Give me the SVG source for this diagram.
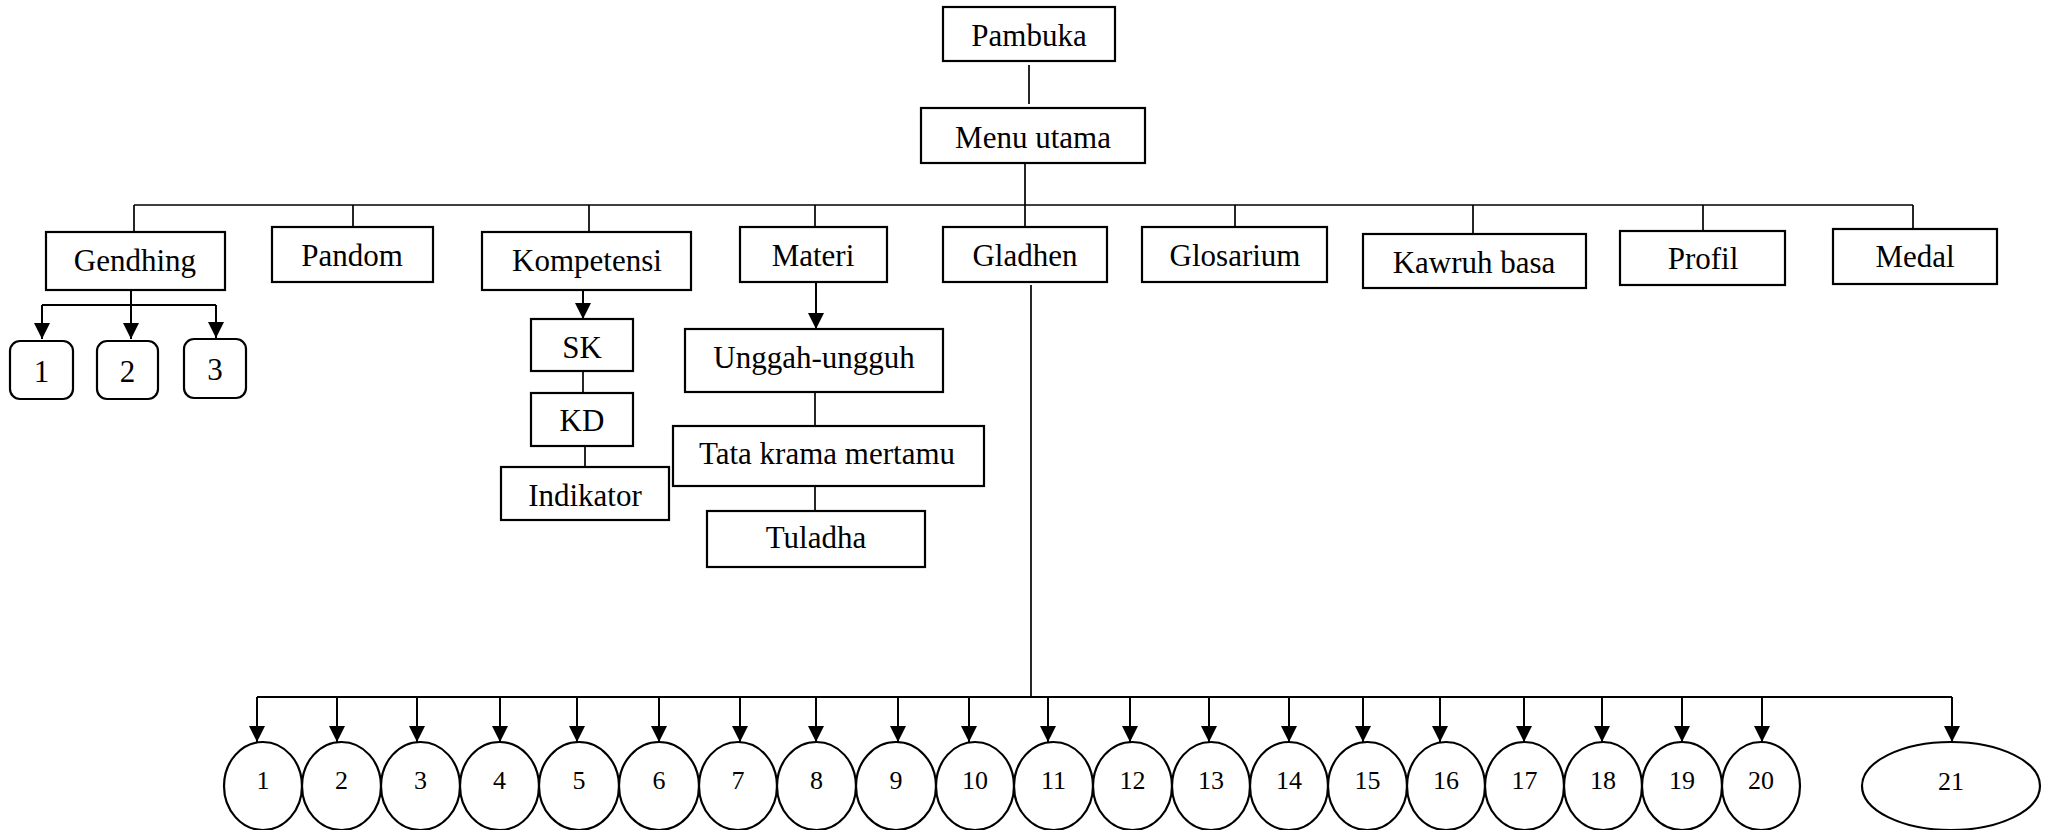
<svg xmlns="http://www.w3.org/2000/svg" width="2053" height="830" viewBox="0 0 2053 830">
<style>
.b{fill:#fff;stroke:#000;stroke-width:2.2}
.c{fill:none;stroke:#000;stroke-width:1.7}
.a{fill:none;stroke:#000;stroke-width:2}
.t{font-size:31px;fill:#000;text-anchor:middle}
.d{font-size:26px;fill:#000;text-anchor:middle}
</style>
<defs>
<marker id="ah" viewBox="0 0 16 16" markerWidth="16" markerHeight="16" refX="16" refY="8" orient="auto" markerUnits="userSpaceOnUse">
<path d="M0,0 L16,8 L0,16 z" fill="#000"/>
</marker>
</defs>
<rect width="2053" height="830" fill="#fff"/>
<g id="connectors">
<line class="c" x1="1029" y1="65" x2="1029" y2="104"/>
<line class="c" x1="1025" y1="163" x2="1025" y2="205"/>
<line class="c" x1="134" y1="205" x2="1913" y2="205"/>
<line class="c" x1="134" y1="205" x2="134" y2="232"/>
<line class="c" x1="353" y1="205" x2="353" y2="227"/>
<line class="c" x1="589" y1="205" x2="589" y2="232"/>
<line class="c" x1="815" y1="205" x2="815" y2="227"/>
<line class="c" x1="1025" y1="205" x2="1025" y2="227"/>
<line class="c" x1="1235" y1="205" x2="1235" y2="227"/>
<line class="c" x1="1473" y1="205" x2="1473" y2="234"/>
<line class="c" x1="1703" y1="205" x2="1703" y2="231"/>
<line class="c" x1="1913" y1="205" x2="1913" y2="229"/>
<line class="a" x1="131" y1="290" x2="131" y2="305"/>
<line class="a" x1="42" y1="305" x2="216" y2="305"/>
<line class="a" x1="42" y1="305" x2="42" y2="339" marker-end="url(#ah)"/>
<line class="a" x1="131" y1="305" x2="131" y2="339" marker-end="url(#ah)"/>
<line class="a" x1="216" y1="305" x2="216" y2="338" marker-end="url(#ah)"/>
<line class="a" x1="583" y1="286" x2="583" y2="319" marker-end="url(#ah)"/>
<line class="c" x1="583" y1="371" x2="583" y2="393"/>
<line class="c" x1="585" y1="446" x2="585" y2="467"/>
<line class="a" x1="816" y1="282" x2="816" y2="329" marker-end="url(#ah)"/>
<line class="c" x1="815" y1="392" x2="815" y2="426"/>
<line class="c" x1="815" y1="483" x2="815" y2="511"/>
<line class="c" x1="1031" y1="285" x2="1031" y2="697"/>
<line class="a" x1="257" y1="697" x2="1952" y2="697"/>
<g marker-end="url(#ah)">
<line class="a" x1="257" y1="697" x2="257" y2="742"/>
<line class="a" x1="337" y1="697" x2="337" y2="742"/>
<line class="a" x1="417" y1="697" x2="417" y2="742"/>
<line class="a" x1="500" y1="697" x2="500" y2="742"/>
<line class="a" x1="577" y1="697" x2="577" y2="742"/>
<line class="a" x1="659" y1="697" x2="659" y2="742"/>
<line class="a" x1="740" y1="697" x2="740" y2="742"/>
<line class="a" x1="816" y1="697" x2="816" y2="742"/>
<line class="a" x1="898" y1="697" x2="898" y2="742"/>
<line class="a" x1="969" y1="697" x2="969" y2="742"/>
<line class="a" x1="1048" y1="697" x2="1048" y2="742"/>
<line class="a" x1="1130" y1="697" x2="1130" y2="742"/>
<line class="a" x1="1209" y1="697" x2="1209" y2="742"/>
<line class="a" x1="1289" y1="697" x2="1289" y2="742"/>
<line class="a" x1="1363" y1="697" x2="1363" y2="742"/>
<line class="a" x1="1440" y1="697" x2="1440" y2="742"/>
<line class="a" x1="1524" y1="697" x2="1524" y2="742"/>
<line class="a" x1="1602" y1="697" x2="1602" y2="742"/>
<line class="a" x1="1682" y1="697" x2="1682" y2="742"/>
<line class="a" x1="1762" y1="697" x2="1762" y2="742"/>
<line class="a" x1="1952" y1="697" x2="1952" y2="742"/>
</g>
</g>
<g font-family="'Liberation Serif', 'Times New Roman', 'DejaVu Serif', serif">
<g id="pambuka"><rect class="b" x="943" y="7" width="172" height="54"/><text class="t" x="1029" y="46">Pambuka</text></g>
<g id="menu-utama"><rect class="b" x="921" y="108" width="224" height="55"/><text class="t" x="1033" y="148">Menu utama</text></g>
<g id="gendhing"><rect class="b" x="46" y="232" width="179" height="58"/><text class="t" x="135" y="271">Gendhing</text></g>
<g id="pandom"><rect class="b" x="272" y="227" width="161" height="55"/><text class="t" x="352" y="266">Pandom</text></g>
<g id="kompetensi"><rect class="b" x="482" y="232" width="209" height="58"/><text class="t" x="587" y="271">Kompetensi</text></g>
<g id="materi"><rect class="b" x="740" y="227" width="147" height="55"/><text class="t" x="813" y="266">Materi</text></g>
<g id="gladhen"><rect class="b" x="943" y="227" width="164" height="55"/><text class="t" x="1025" y="266">Gladhen</text></g>
<g id="glosarium"><rect class="b" x="1142" y="227" width="185" height="55"/><text class="t" x="1235" y="266">Glosarium</text></g>
<g id="kawruh-basa"><rect class="b" x="1363" y="234" width="223" height="54"/><text class="t" x="1474" y="273">Kawruh basa</text></g>
<g id="profil"><rect class="b" x="1620" y="231" width="165" height="54"/><text class="t" x="1703" y="269">Profil</text></g>
<g id="medal"><rect class="b" x="1833" y="229" width="164" height="55"/><text class="t" x="1915" y="267">Medal</text></g>
<g id="g1"><rect class="b" x="10" y="341" width="63" height="58" rx="10"/><text class="t" x="41.5" y="382">1</text></g>
<g id="g2"><rect class="b" x="97" y="341" width="61" height="58" rx="10"/><text class="t" x="127.5" y="382">2</text></g>
<g id="g3"><rect class="b" x="184" y="339" width="62" height="59" rx="10"/><text class="t" x="215" y="380">3</text></g>
<g id="sk"><rect class="b" x="531" y="319" width="102" height="52"/><text class="t" x="582" y="358">SK</text></g>
<g id="kd"><rect class="b" x="531" y="393" width="102" height="53"/><text class="t" x="582" y="431">KD</text></g>
<g id="indikator"><rect class="b" x="501" y="467" width="168" height="53"/><text class="t" x="585" y="506">Indikator</text></g>
<g id="unggah-ungguh"><rect class="b" x="685" y="329" width="258" height="63"/><text class="t" x="814" y="368">Unggah-ungguh</text></g>
<g id="tata-krama"><rect class="b" x="673" y="426" width="311" height="60"/><text class="t" x="827" y="464">Tata krama mertamu</text></g>
<g id="tuladha"><rect class="b" x="707" y="511" width="218" height="56"/><text class="t" x="816" y="548">Tuladha</text></g>
<g id="e1"><ellipse class="b" cx="263" cy="786" rx="39" ry="44"/><text class="d" x="263" y="789">1</text></g>
<g id="e2"><ellipse class="b" cx="341.5" cy="786" rx="39.5" ry="44"/><text class="d" x="341.5" y="789">2</text></g>
<g id="e3"><ellipse class="b" cx="420.5" cy="786" rx="39.5" ry="44"/><text class="d" x="420.5" y="789">3</text></g>
<g id="e4"><ellipse class="b" cx="499.5" cy="786" rx="39.5" ry="44"/><text class="d" x="499.5" y="789">4</text></g>
<g id="e5"><ellipse class="b" cx="579" cy="786" rx="40" ry="44"/><text class="d" x="579" y="789">5</text></g>
<g id="e6"><ellipse class="b" cx="659" cy="786" rx="40" ry="44"/><text class="d" x="659" y="789">6</text></g>
<g id="e7"><ellipse class="b" cx="738" cy="786" rx="39" ry="44"/><text class="d" x="738" y="789">7</text></g>
<g id="e8"><ellipse class="b" cx="816.5" cy="786" rx="39.5" ry="44"/><text class="d" x="816.5" y="789">8</text></g>
<g id="e9"><ellipse class="b" cx="896" cy="786" rx="40" ry="44"/><text class="d" x="896" y="789">9</text></g>
<g id="e10"><ellipse class="b" cx="975" cy="786" rx="39" ry="44"/><text class="d" x="975" y="789">10</text></g>
<g id="e11"><ellipse class="b" cx="1053.5" cy="786" rx="39.5" ry="44"/><text class="d" x="1053.5" y="789">11</text></g>
<g id="e12"><ellipse class="b" cx="1132.5" cy="786" rx="39.5" ry="44"/><text class="d" x="1132.5" y="789">12</text></g>
<g id="e13"><ellipse class="b" cx="1211" cy="786" rx="39" ry="44"/><text class="d" x="1211" y="789">13</text></g>
<g id="e14"><ellipse class="b" cx="1289" cy="786" rx="39" ry="44"/><text class="d" x="1289" y="789">14</text></g>
<g id="e15"><ellipse class="b" cx="1367.5" cy="786" rx="39.5" ry="44"/><text class="d" x="1367.5" y="789">15</text></g>
<g id="e16"><ellipse class="b" cx="1446" cy="786" rx="39" ry="44"/><text class="d" x="1446" y="789">16</text></g>
<g id="e17"><ellipse class="b" cx="1524.5" cy="786" rx="39.5" ry="44"/><text class="d" x="1524.5" y="789">17</text></g>
<g id="e18"><ellipse class="b" cx="1603" cy="786" rx="39" ry="44"/><text class="d" x="1603" y="789">18</text></g>
<g id="e19"><ellipse class="b" cx="1682" cy="786" rx="40" ry="44"/><text class="d" x="1682" y="789">19</text></g>
<g id="e20"><ellipse class="b" cx="1761" cy="786" rx="39" ry="44"/><text class="d" x="1761" y="789">20</text></g>
<g id="e21"><ellipse class="b" cx="1951" cy="786" rx="89" ry="44"/><text class="d" x="1951" y="790">21</text></g>
</g>
</svg>
